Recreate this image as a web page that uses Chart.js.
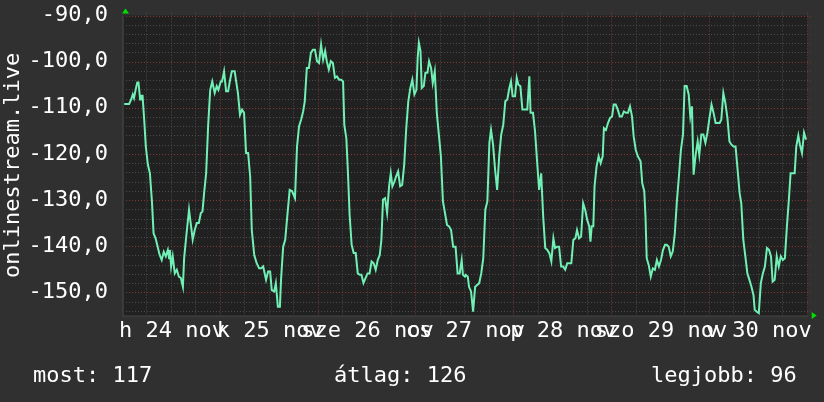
<!DOCTYPE html>
<html><head><meta charset="utf-8">
<script src="https://cdn.jsdelivr.net/npm/chart.js@4/dist/chart.umd.min.js"></script>
<style>html,body{margin:0;padding:0;background:#303030;overflow:hidden}#wrap{width:824px;height:402px;position:relative}</style>
</head><body><div id="wrap"><canvas id="c" width="824" height="402"></canvas></div>
<script>
// time axis in hours since start (Mon 24 Nov 00:00)
const hours = [
0.3,1.5,2.0,2.4,2.7,3.1,3.5,3.8,4.2,4.4,4.8,5.2,5.6,6.1,6.6,7.1,7.5,8.0,8.5,9.0,9.5,10.0,10.5,11.0,11.3,11.5,11.8,12.2,12.7,13.2,13.7,14.2,14.7,15.0,15.6,16.2,16.7,17.1,17.6,18.1,18.6,19.1,19.5,19.9,20.4,20.9,21.4,21.9,22.5,23.0,23.4,24.0,24.3,24.8,25.3,25.8,26.2,26.7,27.4,27.7,28.2,28.7,29.2,29.7,30.2,30.7,31.2,31.6,32.2,32.8,33.4,33.9,34.4,35.1,35.6,36.1,36.5,37.1,37.5,38.0,38.5,38.8,39.3,39.8,40.3,40.9,41.5,
42.2,42.7,43.2,43.7,44.2,44.6,45.1,45.6,46.1,46.6,47.1,47.6,48.1,48.6,49.1,49.6,50.0,50.5,51.0,51.5,52.0,52.5,53.0,53.5,54.0,54.3,54.8,55.2,55.6,56.1,56.6,57.1,57.6,58.1,58.5,59.0,59.5,60.0,60.5,61.0,61.5,62.0,62.5,63.0,63.4,63.8,64.3,64.8,65.3,65.7,66.1,66.6,67.0,67.5,68.0,68.5,69.0,69.5,70.0,70.5,71.0,71.5,72.0,72.3,72.6,73.0,73.3,73.8,74.2,74.7,75.1,75.6,76.0,76.5,77.0,77.5,78.0,78.5,79.0,79.5,80.0,80.5,81.0,81.6,82.1,82.6,83.1,83.4,83.9,
84.1,84.6,84.9,85.4,85.9,86.4,86.9,87.4,87.9,88.4,88.9,89.4,89.9,90.3,90.8,91.3,91.8,92.3,92.8,93.3,93.8,94.3,94.8,95.2,95.6,96.2,96.6,97.0,97.5,98.0,98.7,99.2,99.7,100.0,100.6,101.1,101.6,102.1,102.6,103.1,103.6,104.1,104.6,105.1,105.6,106.0,106.5,107.0,107.5,108.0,108.5,109.0,109.5,110.0,110.5,111.0,111.4,111.9,112.4,112.9,113.4,113.9,114.4,114.7,115.0,115.4,115.7,116.2,116.7,117.2,117.7,118.0,118.5,119.0,119.5,120.0,120.4,120.9,121.4,121.9,122.4,122.9,123.4,123.9,124.4,124.9,125.3,125.8,126.3,
127.0,127.4,127.9,128.2,128.5,129.0,129.5,130.0,130.5,131.0,131.5,132.0,132.5,133.0,133.4,133.9,134.4,134.9,135.4,135.9,136.4,136.9,137.4,137.8,138.3,138.8,139.2,139.6,140.0,140.5,141.0,141.4,141.9,142.4,142.9,143.4,143.9,144.4,144.9,145.4,145.9,146.4,146.8,147.3,147.8,148.3,148.8,149.3,149.8,150.3,150.8,151.3,151.7,152.2,152.7,153.2,153.7,154.2,154.7,155.0,155.5,156.0,156.5,157.0,157.5,158.0,158.5,159.0,159.4,159.9,160.4,160.9,161.4,161.9,162.4,162.9,163.4,163.8,164.3,164.8,165.2,165.7,166.1,166.6,167.1,167.6
];
// signal level (dBm)
const signal = [
-109.2,-109.2,-108.2,-107.1,-107.9,-106.1,-104.5,-104.5,-108.2,-107.4,-107.4,-112.6,-118.4,-122.3,-124.2,-130.3,-137.2,-138.3,-140.1,-141.9,-143.0,-141.2,-142.2,-140.8,-142.6,-140.8,-144.4,-142.2,-145.9,-145.1,-146.6,-146.9,-148.8,-142.6,-137.2,-132.1,-135.7,-138.6,-136.5,-135.0,-135.0,-132.8,-132.5,-128.5,-124.2,-113.7,-106.1,-104.3,-106.8,-105.3,-106.1,-104.3,-104.3,-102.1,-106.4,-106.4,-104.3,-102.1,-102.1,-103.9,-106.8,-111.5,-110.4,-111.1,-119.8,-119.8,-124.9,-136.5,-141.9,-143.7,-144.8,-144.8,-144.4,-147.3,-145.5,-145.5,-149.5,-149.8,-148.0,-153.1,-153.1,-146.9,-140.1,-138.6,-133.6,-127.8,-128.1,
-129.6,-118.4,-114.0,-112.6,-110.8,-108.6,-101.4,-101.4,-98.1,-97.4,-97.4,-99.9,-100.3,-96.3,-99.6,-97.7,-99.9,-101.7,-99.9,-100.3,-103.5,-103.2,-103.9,-103.9,-104.3,-113.7,-116.6,-124.2,-133.2,-139.7,-141.5,-141.5,-145.9,-146.2,-146.2,-148.0,-146.9,-145.9,-145.9,-143.3,-143.7,-145.1,-143.0,-141.9,-138.6,-129.9,-129.6,-132.8,-127.0,-124.2,-127.0,-126.0,-124.9,-123.8,-127.0,-126.7,-122.3,-114.4,-108.6,-105.7,-103.9,-107.1,-106.1,-99.2,-95.9,-97.7,-105.7,-105.3,-102.4,-102.4,-99.9,-101.4,-104.6,-102.1,-111.1,-115.8,-120.5,-130.3,-132.8,-135.4,-135.7,-136.5,-140.1,-140.1,-145.9,-145.9,-143.0,-146.2,-146.6,
-146.2,-146.6,-148.8,-149.8,-154.2,-148.8,-148.4,-148.0,-145.9,-142.6,-132.1,-130.3,-117.6,-114.8,-118.0,-123.4,-127.8,-120.5,-115.8,-113.7,-108.6,-108.2,-105.7,-104.3,-107.5,-107.5,-103.5,-105.0,-105.3,-110.4,-110.4,-110.4,-103.2,-111.1,-111.1,-115.1,-121.6,-127.8,-124.2,-133.6,-140.4,-140.8,-141.5,-143.3,-138.3,-140.4,-140.1,-140.1,-144.4,-144.4,-145.1,-143.7,-143.7,-143.7,-138.6,-138.3,-136.5,-138.3,-137.9,-130.7,-132.1,-134.3,-135.7,-139.0,-135.7,-135.7,-127.0,-122.7,-120.5,-122.0,-120.5,-114.4,-114.8,-113.3,-112.2,-111.9,-109.3,-109.3,-110.4,-111.9,-111.9,-110.8,-111.1,-111.1,-109.7,-111.9,-116.2,-119.1,-120.5,
-121.6,-126.3,-128.1,-133.6,-142.6,-144.1,-146.6,-144.8,-145.1,-143.0,-144.4,-143.0,-140.8,-139.7,-139.7,-140.1,-142.2,-141.1,-137.2,-130.3,-124.9,-119.1,-115.8,-105.3,-105.3,-107.1,-111.9,-109.7,-124.5,-120.2,-117.3,-120.2,-115.8,-115.8,-117.6,-115.4,-112.2,-109.3,-111.1,-113.3,-113.3,-113.3,-112.6,-106.8,-109.0,-112.2,-117.3,-118.0,-118.4,-118.4,-123.4,-128.5,-130.7,-138.6,-142.2,-145.9,-147.3,-148.8,-150.6,-153.8,-154.2,-154.5,-148.0,-145.9,-144.4,-140.4,-140.8,-142.2,-147.7,-147.3,-142.2,-144.4,-142.2,-143.0,-142.6,-135.7,-129.6,-124.2,-124.2,-124.2,-118.4,-116.0,-118.0,-119.8,-115.4,-116.9
];
const dayLabels = ['h 24 nov','k 25 nov','sze 26 nov','cs 27 nov','p 28 nov','szo 29 nov','v 30 nov'];
const dayLabelHours = [12,36,60,84,108,132,156];
const yTickValues = [-150,-140,-130,-120,-110,-100,-90];
const axisTitle = 'onlinestream.live';
const legendTexts = ['most: 117','átlag: 126','legjobb: 96'];

const FONT = "'DejaVu Sans Mono', monospace";
const n = Math.min(hours.length, signal.length);
const points = [];
for (let i = 0; i < n; i++) points.push({x: hours[i], y: signal[i]});

const rrdPlugin = {
  id: 'rrd',
  beforeDraw(chart) {
    const {ctx, chartArea: a} = chart;
    ctx.save();
    ctx.fillStyle = '#303030';
    ctx.fillRect(0, 0, chart.width, chart.height);
    ctx.fillStyle = '#212121';
    ctx.fillRect(a.left, a.top, a.right - a.left, a.bottom - a.top);
    ctx.restore();
  },
  beforeDatasetsDraw(chart) {
    const {ctx, chartArea: a, scales: {x, y}} = chart;
    ctx.save();
    ctx.lineWidth = 1;
    ctx.setLineDash([1, 2]);
    // horizontal grid
    for (let v = -154; v <= -90; v += 2) {
      const py = Math.round(y.getPixelForValue(v)) + 0.5;
      ctx.strokeStyle = (v % 10 === 0) ? '#843838' : '#4c4c4c';
      ctx.beginPath(); ctx.moveTo(a.left, py); ctx.lineTo(a.right + 3, py); ctx.stroke();
    }
    // vertical grid
    for (let h = 6; h <= 168; h += 6) {
      const px = Math.round(x.getPixelForValue(h)) - 0.5;
      ctx.strokeStyle = (h % 24 === 0) ? '#843838' : '#4c4c4c';
      ctx.beginPath(); ctx.moveTo(px, a.top - 3); ctx.lineTo(px, a.bottom + 3); ctx.stroke();
    }
    ctx.setLineDash([]);
    // axis strips
    ctx.fillStyle = '#3a3a3a';
    ctx.fillRect(a.left - 1, a.top, 2, a.bottom - a.top + 1);
    ctx.fillRect(a.left - 1, a.bottom, a.right - a.left + 1, 2);
    ctx.restore();
  },
  afterDraw(chart) {
    const {ctx, chartArea: a} = chart;
    ctx.save();
    // arrows
    ctx.fillStyle = '#00e000';
    ctx.beginPath();
    ctx.moveTo(a.left - 1, 13.5); ctx.lineTo(a.left + 6, 13.5); ctx.lineTo(a.left + 2.5, 8.5); ctx.closePath(); ctx.fill();
    ctx.beginPath();
    const by = a.bottom;
    ctx.moveTo(a.right + 4, by - 3.5); ctx.lineTo(a.right + 4, by + 3.5); ctx.lineTo(a.right + 9, by); ctx.closePath(); ctx.fill();
    // legend text
    ctx.fillStyle = '#ffffff';
    ctx.font = '22px ' + FONT;
    ctx.textBaseline = 'alphabetic';
    ctx.textAlign = 'left';
    ctx.fillText(legendTexts[0], 33, 382);
    ctx.fillText(legendTexts[1], 334, 382);
    ctx.fillText(legendTexts[2], 651, 382);
    ctx.restore();
  }
};

new Chart(document.getElementById('c'), {
  type: 'line',
  data: {
    datasets: [{
      data: points,
      borderColor: '#70f0b4',
      borderWidth: 2,
      pointRadius: 0,
      tension: 0,
      fill: false
    }]
  },
  options: {
    responsive: false,
    animation: false,
    devicePixelRatio: 1,
    layout: {padding: {left: 0, right: 16.3, top: 15.5, bottom: 0}},
    plugins: {legend: {display: false}, tooltip: {enabled: false}},
    scales: {
      x: {
        type: 'linear', min: 0, max: 168,
        grid: {display: false, drawTicks: false},
        border: {display: false},
        afterBuildTicks(s) { s.ticks = dayLabelHours.map(v => ({value: v})); },
        afterFit(s) { s.height = 86.6; s.paddingLeft = 0; s.paddingRight = 0; },
        ticks: {
          autoSkip: false, maxRotation: 0, minRotation: 0, padding: 3,
          color: '#ffffff', font: {family: FONT, size: 22},
          callback: (v, i) => dayLabels[i]
        }
      },
      y: {
        type: 'linear', min: -155, max: -90,
        grid: {display: false, drawTicks: false},
        border: {display: false},
        afterBuildTicks(s) { s.ticks = yTickValues.map(v => ({value: v})); },
        afterFit(s) { s.width = 123; s.paddingTop = 0; s.paddingBottom = 0; },
        ticks: {
          padding: 15, color: '#ffffff', font: {family: FONT, size: 22},
          callback: v => Number(v).toFixed(1).replace('.', ',')
        },
        title: {display: true, text: axisTitle, color: '#ffffff', font: {family: FONT, size: 22}, padding: 0}
      }
    }
  },
  plugins: [rrdPlugin]
});
</script>
</body></html>
